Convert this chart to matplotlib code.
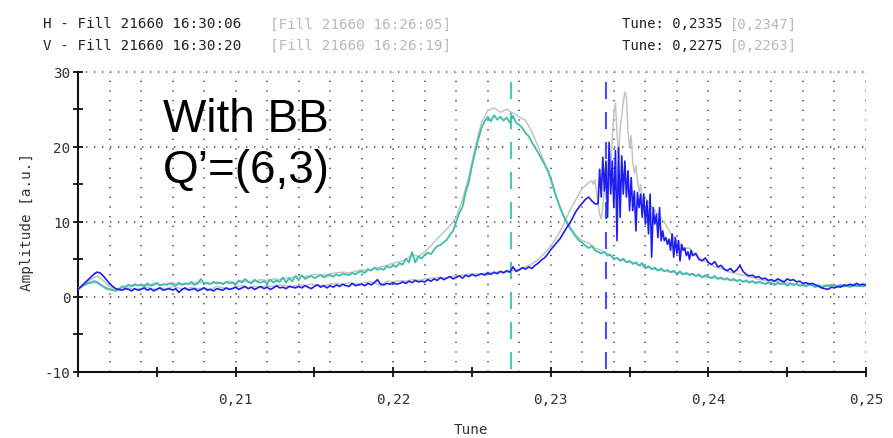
import numpy as np
import matplotlib
matplotlib.use("Agg")
import matplotlib.pyplot as plt
from matplotlib.ticker import MultipleLocator, FuncFormatter

# ---------------- data ----------------
# Tune markers (peak tunes) shown in header and as dashed lines
h_tune_now, h_tune_ref = 0.2335, 0.2347
v_tune_now, v_tune_ref = 0.2275, 0.2263

# Vertical plane, current acquisition (teal), tune 0.2000..0.2500 step 0.0002
v_now = [
    1.1, 1.3, 1.6, 1.8, 1.9, 2.1, 2.0, 1.7, 1.4, 1.1,
    1.0, 0.9, 0.8, 1.0, 1.4, 1.3, 1.6, 1.4, 1.7, 1.5,
    1.6, 1.4, 1.8, 1.5, 1.6, 1.9, 1.5, 1.7, 1.6, 1.8,
    1.7, 1.5, 1.9, 1.6, 1.8, 1.7, 2.0, 1.6, 1.8, 2.4,
    1.8, 1.9, 1.7, 2.0, 1.8, 1.9, 1.7, 2.0, 1.8, 1.9,
    1.6, 2.2, 1.9, 2.4, 2.0, 1.8, 2.3, 2.0, 1.9, 2.1,
    1.8, 2.3, 1.9, 2.2, 2.0, 2.6, 1.9, 2.5, 2.1, 2.8,
    2.2, 2.9, 2.4, 2.6, 2.8, 2.5, 2.7, 2.9, 2.6, 2.8,
    2.9, 2.7, 3.0, 2.8, 3.1, 3.0, 2.9, 3.2, 3.0, 3.3,
    3.4, 3.2, 3.7, 3.5, 3.9, 3.6, 3.8, 3.6, 4.1, 3.9,
    4.2, 4.0, 4.5, 4.3, 5.1, 4.6, 6.0, 4.6, 5.4, 5.1,
    5.6, 5.9, 5.7, 6.3, 6.8, 6.9, 7.3, 7.6, 8.3, 8.8,
    10.0, 11.2, 12.0, 14.0, 15.3, 17.5, 19.3, 21.0, 22.5, 23.4,
    24.0, 23.4, 24.2, 23.6, 24.0, 23.5, 23.9, 23.2, 24.1, 23.2,
    22.9, 22.5, 21.8, 21.4, 20.6, 19.9, 19.2, 18.4, 17.7, 16.9,
    15.8, 14.3, 13.0, 11.8, 10.8, 9.9, 9.2, 8.6, 8.0, 7.5,
    7.2, 6.8, 6.5, 6.8, 6.2, 6.0, 5.8, 6.0, 5.5, 5.6,
    5.0, 5.2, 4.8, 5.1, 4.6, 4.8, 4.4, 4.6, 4.2, 4.5,
    3.8, 4.1, 3.7, 3.9, 3.5, 3.8, 3.4, 3.6, 3.3, 3.5,
    3.1, 3.4, 3.0, 3.2, 2.9, 3.1, 2.8, 3.0, 2.6, 2.9,
    2.7, 2.5, 2.8, 2.4, 2.6, 2.3, 2.5, 2.2, 2.4, 2.1,
    2.3, 2.0, 2.2, 1.9, 2.1, 1.8, 2.0, 1.9, 1.7, 1.9,
    1.8, 1.6, 1.9, 1.7, 1.8, 1.5, 1.8, 1.6, 1.7, 1.5,
    1.6, 1.4, 1.7, 1.5, 1.3, 1.6, 1.2, 1.5, 1.4, 1.6,
    1.5, 1.3, 1.6, 1.4, 1.5, 1.3, 1.6, 1.4, 1.5, 1.4,
    1.5,
]

# Vertical plane, reference acquisition (grey), tune 0.2000..0.2500 step 0.0004
v_ref = [
    1.2, 1.6, 1.9, 1.8, 1.4, 1.1, 1.0, 1.3, 1.6, 1.5,
    1.7, 1.5, 1.8, 1.6, 1.7, 1.9, 1.6, 1.8, 1.7, 2.0,
    1.8, 1.7, 2.0, 1.8, 2.1, 1.9, 2.2, 2.0, 2.1, 2.3,
    2.2, 2.4, 2.3, 2.5, 2.6, 2.8, 2.7, 2.9, 3.0, 2.9,
    3.1, 3.2, 3.3, 3.2, 3.4, 3.6, 3.5, 3.8, 4.0, 4.2,
    4.5, 4.7, 5.0, 5.6, 5.4, 6.0, 6.8, 7.8, 8.6, 9.5,
    10.6, 13.0, 16.0, 20.0, 23.2, 24.8, 25.2, 24.6, 25.0, 24.5,
    24.0, 23.5, 22.0, 20.0, 17.8, 15.5, 13.0, 11.0, 9.4, 8.2,
    7.5, 7.2, 6.5, 6.2, 5.8, 5.2, 5.0, 4.7, 4.6, 4.2,
    4.0, 3.8, 3.6, 3.5, 3.3, 3.2, 3.0, 3.1, 2.8, 2.7,
    2.6, 2.5, 2.4, 2.3, 2.2, 2.2, 2.0, 2.1, 1.9, 1.8,
    1.9, 1.7, 1.8, 1.6, 1.7, 1.5, 1.6, 1.4, 1.5, 1.6,
    1.5, 1.4, 1.6, 1.5, 1.4, 1.5,
]

# Horizontal plane, current acquisition (blue), three tune segments
h_now_low = [   # 0.2000..0.2328 step 0.0002
    1.0, 1.4, 1.8, 2.2, 2.6, 3.0, 3.3, 3.2, 2.8, 2.3,
    1.8, 1.4, 1.1, 1.0, 0.9, 1.1, 1.0, 0.8, 1.1, 0.9,
    1.0, 1.2, 0.9, 1.1, 0.8, 1.0, 1.2, 0.9, 1.0, 1.1,
    0.9, 1.1, 0.6, 1.0, 1.2, 0.9, 1.0, 1.1, 0.8, 1.0,
    1.2, 0.9, 1.0, 0.8, 1.1, 1.0, 0.9, 1.2, 1.0, 1.1,
    1.3, 1.0, 1.2, 1.4, 1.1, 1.3, 1.0, 1.2, 1.4, 1.1,
    1.3, 1.0, 1.2, 1.5, 1.2, 1.3, 1.1, 1.4, 1.3, 1.2,
    1.4, 1.2, 1.5, 1.3, 1.1, 1.4, 1.6, 1.3, 1.5, 1.2,
    1.5, 1.3, 1.6, 1.4, 1.7, 1.5, 1.4, 1.8, 1.5, 1.6,
    1.7, 1.5, 1.8, 1.6, 1.9, 2.3, 1.7, 1.6, 1.8, 1.7,
    1.9, 1.7, 1.8, 2.0, 1.8, 2.1, 1.9, 2.2, 2.0, 2.1,
    2.0, 2.3, 2.1, 2.4, 2.2, 2.6, 2.3, 2.5, 2.7, 2.4,
    2.6, 2.8, 2.5, 2.9, 2.7, 3.0, 2.8, 2.9, 3.1, 2.9,
    3.2, 3.0, 3.3, 3.1, 3.4, 3.2, 3.5, 3.3, 4.0, 3.4,
    3.6, 3.9, 3.7, 4.0, 3.8, 4.2, 4.5, 4.9, 5.2, 5.7,
    6.3, 6.8, 7.3, 7.8, 8.5, 9.2, 9.8, 10.6, 11.4, 12.0,
    12.5, 13.0, 13.3, 12.8, 12.4,
]
h_now_peak = [  # 0.2330..0.2389 step 0.0001
    12.4, 17.0, 13.3, 18.6, 14.1, 18.1, 10.6, 20.6, 13.7, 18.1,
    11.9, 19.5, 7.5, 19.9, 10.6, 18.8, 13.7, 18.1, 13.3, 16.8,
    11.5, 15.9, 11.5, 14.1, 8.8, 13.9, 11.9, 13.7, 10.6, 13.7,
    9.7, 12.8, 8.4, 13.7, 5.3, 11.9, 9.7, 11.0, 7.9, 11.9,
    7.5, 8.8, 7.5, 7.9, 7.0, 7.7, 6.2, 8.4, 5.3, 7.9,
    5.8, 7.5, 4.8, 7.0, 6.2, 6.5, 5.5, 6.0, 5.0, 6.2,
]
h_now_high = [  # 0.2390..0.2500 step 0.0002
    5.5, 5.8, 5.0, 4.8, 5.2, 4.6, 4.3, 4.7, 4.0, 4.2,
    3.7, 3.5, 3.8, 3.3, 3.6, 4.2, 3.4, 3.0, 2.8, 2.9,
    2.6, 2.7, 2.4, 2.5, 2.2, 2.3, 2.1, 2.4, 2.2, 2.0,
    2.4, 2.2, 2.3, 2.0, 2.1, 1.8, 1.9, 1.7, 1.8, 1.6,
    1.4, 1.2, 1.1, 1.0, 1.3, 1.2, 1.4, 1.3, 1.6, 1.5,
    1.7, 1.5, 1.8, 1.6, 1.7, 1.6,
]

# Horizontal plane, reference acquisition (grey), three tune segments
h_ref_low = [   # 0.2000..0.2324 step 0.0004
    1.0, 1.6, 2.3, 2.8, 2.2, 1.4, 1.1, 1.0, 1.2, 1.0,
    1.1, 1.3, 1.0, 1.2, 1.1, 1.4, 1.2, 1.0, 1.3, 1.1,
    1.2, 1.0, 1.4, 1.2, 1.1, 1.3, 1.5, 1.2, 1.4, 1.3,
    1.5, 1.4, 1.6, 1.5, 1.4, 1.6, 1.5, 1.7, 1.6, 1.5,
    1.7, 1.8, 1.6, 1.9, 1.7, 1.8, 2.0, 1.9, 1.5, 2.1,
    2.0, 2.2, 2.1, 2.3, 2.2, 2.4, 2.5, 2.6, 2.5, 2.7,
    2.8, 2.9, 3.0, 3.1, 3.0, 3.3, 3.2, 3.4, 3.3, 3.5,
    3.7, 4.0, 4.4, 5.0, 5.8, 6.8, 8.0, 9.6, 11.5, 13.0,
    14.5, 15.2,
]
h_ref_peak = [  # 0.2325..0.2360 step 0.0001
    15.3, 15.5, 15.0, 15.6, 14.0, 12.5, 11.0, 10.4, 12.0, 14.5,
    13.0, 16.0, 19.5, 17.5, 21.0, 24.5, 25.8, 22.0, 18.5, 22.5,
    24.0, 26.0, 27.3, 26.5, 22.0, 19.8, 21.5, 18.0, 16.5, 17.5,
    15.5, 14.0, 15.0, 13.0, 12.5, 13.2,
]
h_ref_high = [  # 0.2364..0.2500 step 0.0004
    12.0, 11.0, 10.0, 8.5, 7.5, 6.5, 6.5, 5.5, 5.0, 4.5,
    4.0, 3.8, 3.4, 3.2, 3.0, 2.8, 2.6, 2.3, 2.2, 2.0,
    2.1, 1.9, 1.8, 1.7, 1.6, 1.8, 1.5, 1.4, 1.6, 1.5,
    1.6, 1.4, 1.7, 1.5, 1.6,
]

x_label = "Tune"
y_label = "Amplitude [a.u.]"
h_fill_now, h_fill_ref = "Fill 21660 16:30:06", "Fill 21660 16:26:05"
v_fill_now, v_fill_ref = "Fill 21660 16:30:20", "Fill 21660 16:26:19"
annot_lines = ["With BB", "Q\u2019=(6,3)"]

# tune axes for each series
t_v_now = np.linspace(0.2000, 0.2500, len(v_now))
t_v_ref = np.linspace(0.2000, 0.2500, len(v_ref))
t_h_now = np.concatenate([np.linspace(0.2000, 0.2328, len(h_now_low)),
                          np.linspace(0.2330, 0.2389, len(h_now_peak)),
                          np.linspace(0.2390, 0.2500, len(h_now_high))])
a_h_now = np.array(h_now_low + h_now_peak + h_now_high)
t_h_ref = np.concatenate([np.linspace(0.2000, 0.2324, len(h_ref_low)),
                          np.linspace(0.2325, 0.2360, len(h_ref_peak)),
                          np.linspace(0.2364, 0.2500, len(h_ref_high))])
a_h_ref = np.array(h_ref_low + h_ref_peak + h_ref_high)

# ---------------- style ----------------
plt.rcParams['font.family'] = ['DejaVu Sans Mono', 'DejaVu Sans']
W, H = 893, 439
fig = plt.figure(figsize=(W / 100, H / 100), dpi=100)
ax = fig.add_axes([78 / W, 1 - 373 / H, (866 - 78) / W, (373 - 72.7) / H])

BLUE = '#1e1ef2'
TEAL = '#3fbdae'
GREY = '#c4c4c4'
GRID = '#505050'

ax.set_xlim(0.2000, 0.2500)
ax.set_ylim(-10, 30)

# dotted grid
xg = np.arange(0.202, 0.25001, 0.002)
ax.vlines(xg, -10, 30, colors=GRID, linewidth=1.2, linestyles=(0, (0.8, 5.0)), zorder=1)
ax.hlines([0, 10, 20, 30], 0.2000, 0.2500, colors=GRID, linewidth=1.2,
          linestyles=(0, (0.8, 4.0)), zorder=1, clip_on=False)

# dashed tune markers
ax.plot([h_tune_now, h_tune_now], [28.6, -10], color='#4b4bff', lw=1.5,
        dashes=(8.2, 6.2), zorder=2)
ax.plot([v_tune_now, v_tune_now], [28.6, -10], color='#4cc6b8', lw=1.5,
        dashes=(8.2, 6.2), zorder=2)

# curves
ax.plot(t_v_ref, v_ref, color=GREY, lw=1.1, zorder=3)
ax.plot(t_h_ref, a_h_ref, color=GREY, lw=1.1, zorder=3)
ax.plot(t_v_now, v_now, color=TEAL, lw=1.3, zorder=4)
ax.plot(t_h_now, a_h_now, color=BLUE, lw=1.2, zorder=5)

# spines
for s in ['top', 'right']:
    ax.spines[s].set_visible(False)
for s in ['left', 'bottom']:
    ax.spines[s].set_linewidth(1.5)
    ax.spines[s].set_color('#111111')

ax.xaxis.set_major_locator(MultipleLocator(0.005))
ax.yaxis.set_major_locator(MultipleLocator(5))


def xfmt(v, pos):
    k = round(v * 1000)
    if k % 10 == 0 and k > 200:
        return f"{v:.2f}".replace('.', ',')
    return ""


def yfmt(v, pos):
    k = int(round(v))
    return str(k) if k % 10 == 0 else ""


ax.xaxis.set_major_formatter(FuncFormatter(xfmt))
ax.yaxis.set_major_formatter(FuncFormatter(yfmt))
ax.tick_params(axis='both', direction='inout', length=7, width=1.3, color='#111111',
               labelsize=10.3, labelcolor='#333333')
ax.tick_params(axis='x', pad=11)
ax.tick_params(axis='y', pad=2)

# axis labels
fig.text(471 / W, 1 - 430 / H, x_label, ha='center', va='center', fontsize=10.3, color='#333333')
fig.text(27 / W, 1 - 222 / H, y_label, ha='center', va='center', rotation=90,
         fontsize=10.3, color='#333333')

# header
def tune_str(t):
    return f"{t:.4f}".replace('.', ',')

hdr = [(24.5, "H - " + h_fill_now, "[" + h_fill_ref + "]", h_tune_now, h_tune_ref),
       (45.5, "V - " + v_fill_now, "[" + v_fill_ref + "]", v_tune_now, v_tune_ref)]
for ypx, a, b, tn, tr in hdr:
    yy = 1 - ypx / H
    fig.text(43 / W, yy, a, va='center', fontsize=10.3, color='#222222')
    fig.text(270 / W, yy, b, va='center', fontsize=10.3, color='#b8b8b8')
    fig.text(622 / W, yy, "Tune: " + tune_str(tn), va='center', fontsize=10.0, color='#222222')
    fig.text(730 / W, yy, "[" + tune_str(tr) + "]", va='center', fontsize=10.0, color='#b8b8b8')

# annotation
ax.text(163 / W, 1 - 132 / H, annot_lines[0], transform=fig.transFigure,
        family=['Liberation Sans', 'DejaVu Sans'], fontsize=33, va='baseline', color='black')
ax.text(163 / W, 1 - 183 / H, annot_lines[1], transform=fig.transFigure,
        family=['Liberation Sans', 'DejaVu Sans'], fontsize=33, va='baseline', color='black')

fig.savefig("out.png", dpi=100)
